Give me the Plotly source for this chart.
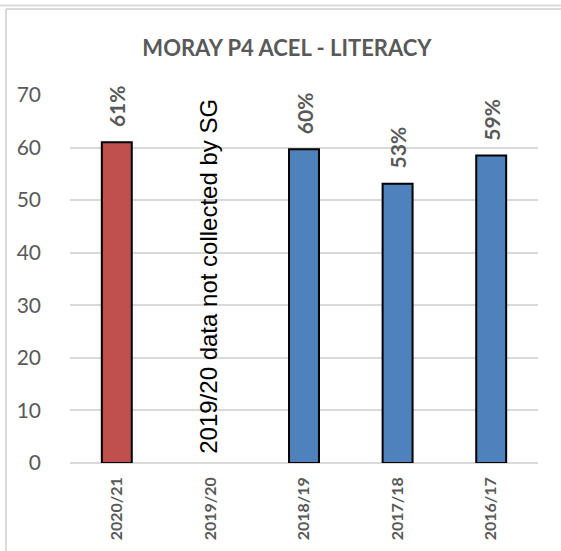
import plotly.graph_objects as go

# 数据
years = ["2020/21", "2019/20", "2018/19", "2017/18", "2016/17"]
values = [61.0, None, 59.7, 53.1, 58.5]
labels = ["61%", "", "60%", "53%", "59%"]
bar_colors = ["#C0504D", "#4F81BD", "#4F81BD", "#4F81BD", "#4F81BD"]
note = "2019/20 data not collected by SG"

W, H = 561, 551
L, R, T, B = 70, 23, 95, 88

fig = go.Figure()
fig.add_trace(go.Bar(
    x=years, y=values,
    marker=dict(color=bar_colors, line=dict(color="black", width=2)),
    width=0.32, hoverinfo="skip",
))

# 数据标签
for x, v, t in zip(years, values, labels):
    if v is None:
        continue
    fig.add_annotation(x=x, y=v, text="<b>" + t + "</b>", showarrow=False, textangle=-90,
                       yanchor="bottom", yshift=13,
                       font=dict(family="Lato", size=21, color="#595959"))

fig.add_annotation(x="2019/20", y=35.5, text=note, showarrow=False, textangle=-90,
                   xshift=-2, font=dict(family="Liberation Sans", size=24, color="black"))

# 外框
pw, ph = W - L - R, H - T - B
def px_x(p):
    return (p - L) / pw
def px_y(p):
    return (H - B - p) / ph
frame = dict(type="line", xref="paper", yref="paper", line=dict(color="#d9d9d9", width=2), layer="below")
fig.add_shape(x0=px_x(0), x1=px_x(W), y0=px_y(5.5), y1=px_y(5.5), **frame)
fig.add_shape(x0=px_x(6), x1=px_x(W), y0=px_y(9), y1=px_y(9), **frame)
fig.add_shape(x0=px_x(6), x1=px_x(6), y0=px_y(9), y1=px_y(H), **frame)

fig.update_layout(
    width=W, height=H, margin=dict(l=L, r=R, t=T, b=B),
    paper_bgcolor="white", plot_bgcolor="white", showlegend=False,
    title=dict(text="<b>MORAY P4 ACEL - LITERACY</b>", x=287 / W, xanchor="center",
               y=1 - 48 / H, yanchor="middle", yref="container",
               font=dict(family="Lato", size=22, color="#595959")),
    xaxis=dict(tickangle=-90, showgrid=False, showline=False, ticks="",
               ticklabelstandoff=10, tickvals=years, ticktext=["<b>" + y + "</b>" for y in years],
               tickfont=dict(family="Lato", size=16, color="#595959")),
    yaxis=dict(range=[0, 70], dtick=10, showgrid=True, gridcolor="#d9d9d9", gridwidth=1.5,
               zeroline=True, zerolinecolor="#d9d9d9", zerolinewidth=2,
               showline=False, ticks="", ticklabelstandoff=28,
               tickfont=dict(family="Lato", size=21, color="#595959")),
)

fig.write_html("out.html", config={"displayModeBar": False},
               post_script="document.body.style.margin='0';")
